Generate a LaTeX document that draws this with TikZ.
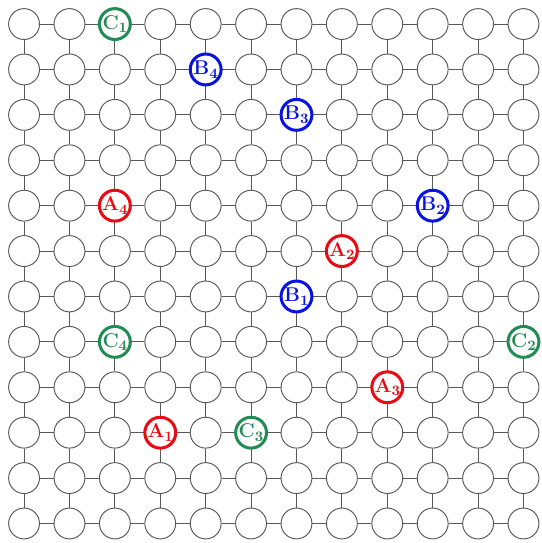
\documentclass[tikz,border=0pt]{standalone}
\usepackage{tikz}
\usetikzlibrary{positioning}
\definecolor{grpA}{RGB}{235, 10, 20}
\definecolor{grpB}{RGB}{10, 20, 225}
\definecolor{grpC}{RGB}{35, 140, 85}
\tikzset{
  site/.style={circle, draw=black!65, line width=0.6pt, fill=white, minimum size=0.68cm, inner sep=0pt},
  bond/.style={draw=black!65, line width=0.6pt},
  tagged/.style={site, line width=1.9pt, font=\fontsize{12.5}{14}\selectfont\bfseries},
  tagA/.style={tagged, draw=grpA, text=grpA},
  tagB/.style={tagged, draw=grpB, text=grpB},
  tagC/.style={tagged, draw=grpC, text=grpC}
}
\newcommand{\tagtext}[2]{#1\raisebox{-0.4ex}{\fontsize{9}{10}\selectfont\bfseries #2}}

\begin{document}
\begin{tikzpicture}
  \useasboundingbox (-0.53, 0.53) rectangle (11.39, -11.43);
  % --- lattice sites ---
  \foreach \r in {0,...,11}
    \foreach \c in {0,...,11}
      \node[site] (n-\r-\c) at (\c, -\r) {};
  % --- bonds ---
  \foreach \r in {0,...,11} {
    \foreach \c in {0,...,10} {
      \pgfmathtruncatemacro{\nx}{\c+1}
      \draw[bond] (n-\r-\c) -- (n-\r-\nx);
      \draw[bond] (n-\c-\r) -- (n-\nx-\r);
    }
  }
  % --- marked sites ---
  \node[tagA] (A1) at (n-9-3) {\tagtext{A}{1}};
  \node[tagA] (A2) at (n-5-7) {\tagtext{A}{2}};
  \node[tagA] (A3) at (n-8-8) {\tagtext{A}{3}};
  \node[tagA] (A4) at (n-4-2) {\tagtext{A}{4}};
  \node[tagB] (B1) at (n-6-6) {\tagtext{B}{1}};
  \node[tagB] (B2) at (n-4-9) {\tagtext{B}{2}};
  \node[tagB] (B3) at (n-2-6) {\tagtext{B}{3}};
  \node[tagB] (B4) at (n-1-4) {\tagtext{B}{4}};
  \node[tagC] (C1) at (n-0-2) {\tagtext{C}{1}};
  \node[tagC] (C2) at (n-7-11) {\tagtext{C}{2}};
  \node[tagC] (C3) at (n-9-5) {\tagtext{C}{3}};
  \node[tagC] (C4) at (n-7-2) {\tagtext{C}{4}};
\end{tikzpicture}
\end{document}
